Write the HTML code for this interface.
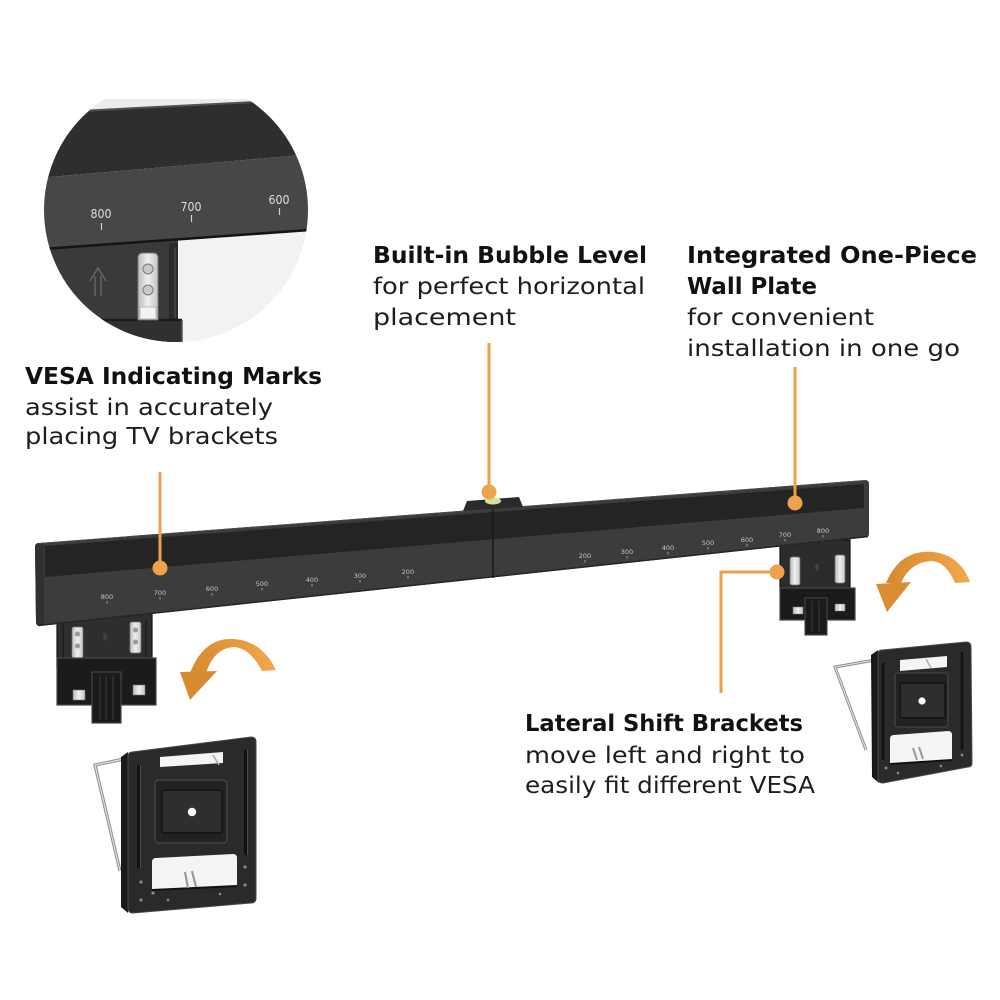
<!DOCTYPE html>
<html>
<head>
<meta charset="utf-8">
<style>
  html,body{margin:0;padding:0;background:#fff;}
  svg{display:block;}
  .h{font-family:"DejaVu Sans","Liberation Sans",sans-serif;font-weight:bold;font-size:23.5px;fill:#111;}
  .b{font-family:"DejaVu Sans","Liberation Sans",sans-serif;font-size:23.5px;fill:#1e1e1e;}
  .s{font-family:"DejaVu Sans","Liberation Sans",sans-serif;font-size:6.5px;fill:#c8c8c8;text-anchor:middle;}
  .c{font-family:"DejaVu Sans","Liberation Sans",sans-serif;font-size:12.5px;fill:#dedede;text-anchor:middle;}
</style>
</head>
<body>
<svg width="1000" height="1000" viewBox="0 0 1000 1000" xmlns="http://www.w3.org/2000/svg">
  <defs>
    <clipPath id="circ"><circle cx="176" cy="210" r="132"/></clipPath>
    <linearGradient id="arrL" x1="0" y1="0" x2="1" y2="0">
      <stop offset="0" stop-color="#d7892f"/>
      <stop offset="1" stop-color="#f3a84e"/>
    </linearGradient>
    <linearGradient id="silver" x1="0" y1="0" x2="1" y2="0">
      <stop offset="0" stop-color="#bdbdbd"/>
      <stop offset="0.5" stop-color="#efefef"/>
      <stop offset="1" stop-color="#c4c4c4"/>
    </linearGradient>
  </defs>

  <!-- ===== Circle inset ===== -->
  <g clip-path="url(#circ)">
    <rect x="40" y="99" width="275" height="16" fill="#ececec"/>
    <polygon points="40,112.5 312,98.6 312,154.2 40,177.9" fill="#2e2e2e"/>
    <line x1="40" y1="113" x2="312" y2="99.1" stroke="#525252" stroke-width="2"/>
    <polygon points="40,177.9 312,154.2 312,229.4 40,248.7" fill="#474747"/>
    <polygon points="177,240 312,230 312,350 177,350" fill="#f2f2f2"/>
    <polygon points="40,249.5 178,240 178,350 40,350" fill="#3a3a3a"/>
    <rect x="169" y="243" width="9" height="110" fill="#2b2b2b"/>
    <line x1="175" y1="248" x2="175" y2="318" stroke="#4e4e4e" stroke-width="1.2"/>
    <rect x="40" y="320" width="142" height="30" fill="#303030"/>
    <line x1="40" y1="320" x2="182" y2="320" stroke="#1a1a1a" stroke-width="2.5"/>
    <line x1="182" y1="320" x2="182" y2="350" stroke="#555" stroke-width="1.5"/>
    <line x1="40" y1="249.2" x2="312" y2="229.8" stroke="#141414" stroke-width="2.5"/>
    <!-- silver plate -->
    <path d="M138,320 L138,258 Q138,253 143,253 L153,253 Q158,253 158,258 L158,320 Z" fill="url(#silver)" stroke="#7a7a7a" stroke-width="1"/>
    <rect x="140" y="307" width="16" height="12" fill="#f2f2f2" stroke="#999" stroke-width="0.6"/>
    <circle cx="148" cy="269" r="5" fill="#c9c9c9" stroke="#777" stroke-width="1"/>
    <circle cx="148" cy="290" r="5" fill="#c9c9c9" stroke="#777" stroke-width="1"/>
    <!-- arrow -->
    <g stroke="#6c6c6c" stroke-width="1.3" fill="none">
      <polyline points="90,281 98,268 106,281"/>
      <line x1="95" y1="276" x2="95" y2="296"/>
      <line x1="101" y1="276" x2="101" y2="296"/>
    </g>
    <!-- labels -->
    <text class="c" x="101" y="218" textLength="21" lengthAdjust="spacingAndGlyphs">800</text>
    <line x1="101.5" y1="223" x2="101.5" y2="230" stroke="#cfcfcf" stroke-width="1.2"/>
    <text class="c" x="191" y="211" textLength="21" lengthAdjust="spacingAndGlyphs">700</text>
    <line x1="191.5" y1="215" x2="191.5" y2="222" stroke="#cfcfcf" stroke-width="1.2"/>
    <text class="c" x="279" y="204" textLength="21" lengthAdjust="spacingAndGlyphs">600</text>
    <line x1="279.5" y1="208" x2="279.5" y2="215" stroke="#cfcfcf" stroke-width="1.2"/>
  </g>

  <!-- ===== Text blocks ===== -->
  <text class="h" x="25" y="384" textLength="297" lengthAdjust="spacingAndGlyphs">VESA Indicating Marks</text>
  <text class="b" x="25" y="415" textLength="248" lengthAdjust="spacingAndGlyphs">assist in accurately</text>
  <text class="b" x="25" y="444" textLength="253" lengthAdjust="spacingAndGlyphs">placing TV brackets</text>

  <text class="h" x="373" y="263" textLength="274" lengthAdjust="spacingAndGlyphs">Built-in Bubble Level</text>
  <text class="b" x="373" y="294" textLength="272" lengthAdjust="spacingAndGlyphs">for perfect horizontal</text>
  <text class="b" x="373" y="325" textLength="143" lengthAdjust="spacingAndGlyphs">placement</text>

  <text class="h" x="687" y="263" textLength="290" lengthAdjust="spacingAndGlyphs">Integrated One-Piece</text>
  <text class="h" x="687" y="294" textLength="130" lengthAdjust="spacingAndGlyphs">Wall Plate</text>
  <text class="b" x="687" y="325" textLength="187" lengthAdjust="spacingAndGlyphs">for convenient</text>
  <text class="b" x="687" y="356" textLength="273" lengthAdjust="spacingAndGlyphs">installation in one go</text>

  <text class="h" x="525" y="731" textLength="278" lengthAdjust="spacingAndGlyphs">Lateral Shift Brackets</text>
  <text class="b" x="525" y="763" textLength="280" lengthAdjust="spacingAndGlyphs">move left and right to</text>
  <text class="b" x="525" y="793" textLength="290" lengthAdjust="spacingAndGlyphs">easily fit different VESA</text>

  <!-- ===== Hanging bracket left ===== -->
  <g>
    <rect x="57" y="612" width="95" height="56" fill="#2e2e2e" stroke="#151515" stroke-width="1.2"/>
    <line x1="63" y1="620" x2="63" y2="660" stroke="#1c1c1c" stroke-width="1.5"/>
    <line x1="146" y1="620" x2="146" y2="660" stroke="#1c1c1c" stroke-width="1.5"/>
    <rect x="72" y="627" width="11" height="31" rx="2" fill="url(#silver)" stroke="#777" stroke-width="0.7"/>
    <circle cx="77.5" cy="634" r="2.5" fill="#999"/><circle cx="77.5" cy="646" r="2.5" fill="#999"/>
    <rect x="130" y="622" width="11" height="31" rx="2" fill="url(#silver)" stroke="#777" stroke-width="0.7"/>
    <circle cx="135.5" cy="630" r="2.5" fill="#999"/><circle cx="135.5" cy="642" r="2.5" fill="#999"/>
    <ellipse cx="105" cy="637" rx="2" ry="4" fill="#3e3e3e"/>
    <rect x="57" y="658" width="99" height="47" fill="#1b1b1b" stroke="#474747" stroke-width="1.2"/>
    <rect x="92" y="672" width="29" height="51" fill="#1a1a1a" stroke="#474747" stroke-width="1.2"/>
    <line x1="100" y1="676" x2="100" y2="720" stroke="#3a3a3a" stroke-width="1.2"/>
    <line x1="106" y1="676" x2="106" y2="720" stroke="#3a3a3a" stroke-width="1.2"/>
    <line x1="113" y1="676" x2="113" y2="720" stroke="#3a3a3a" stroke-width="1.2"/>
    <rect x="73" y="690" width="12" height="10" fill="url(#silver)" stroke="#777" stroke-width="0.6"/>
    <rect x="133" y="685" width="12" height="10" fill="url(#silver)" stroke="#777" stroke-width="0.6"/>
  </g>

  <!-- ===== Hanging bracket right ===== -->
  <g>
    <rect x="780" y="540" width="70" height="50" fill="#2c2c2c" stroke="#151515" stroke-width="1.2"/>
    <rect x="790" y="557" width="10" height="28" rx="2" fill="url(#silver)" stroke="#777" stroke-width="0.7"/>
    <rect x="835" y="555" width="10" height="28" rx="2" fill="url(#silver)" stroke="#777" stroke-width="0.7"/>
    <ellipse cx="817" cy="567" rx="1.8" ry="3.5" fill="#444"/>
    <rect x="780" y="588" width="75" height="32" fill="#1b1b1b" stroke="#474747" stroke-width="1.2"/>
    <rect x="805" y="598" width="22" height="37" fill="#1a1a1a" stroke="#474747" stroke-width="1.1"/>
    <line x1="812" y1="601" x2="812" y2="632" stroke="#3a3a3a" stroke-width="1"/>
    <line x1="819" y1="601" x2="819" y2="632" stroke="#3a3a3a" stroke-width="1"/>
    <rect x="793" y="607" width="10" height="7" fill="url(#silver)" stroke="#777" stroke-width="0.5"/>
    <rect x="835" y="604" width="10" height="7" fill="url(#silver)" stroke="#777" stroke-width="0.5"/>
  </g>

  <!-- ===== Main bar ===== -->
  <path d="M35,547 Q35,543 39,543 L865,480 Q869,480 869,484 L869,534 Q869,537 865,537.5 L40,626 Q36,626 36,622 Z" fill="#3c3c3c"/>
  <polygon points="45,546 864,484 864,508 45,577" fill="#242424"/>
  <path d="M35,547 Q35,543 39,543 L44,543 L44,625 L40,626 Q36,626 36,622 Z" fill="#303030"/>
  <line x1="38" y1="625.5" x2="868" y2="536.5" stroke="#262626" stroke-width="1.5"/>
  <line x1="39" y1="543.5" x2="866" y2="480.5" stroke="#4a4a4a" stroke-width="1"/>
  <line x1="493" y1="507" x2="493" y2="578" stroke="#181818" stroke-width="1.5"/>
  <!-- bubble level bump -->
  <polygon points="463,511 467,501 519,497 523,507" fill="#2b2b2b"/>
  <ellipse cx="493" cy="501" rx="8" ry="3.5" fill="#cfe69a"/>

  <!-- scale marks left -->
  <g>
    <text class="s" x="107" y="599">800</text><line x1="107" y1="601" x2="107" y2="603.5" stroke="#bbb" stroke-width="0.8"/>
    <text class="s" x="160" y="595">700</text><line x1="160" y1="597" x2="160" y2="599.5" stroke="#bbb" stroke-width="0.8"/>
    <text class="s" x="212" y="591">600</text><line x1="212" y1="593" x2="212" y2="595.5" stroke="#bbb" stroke-width="0.8"/>
    <text class="s" x="262" y="586">500</text><line x1="262" y1="588" x2="262" y2="590.5" stroke="#bbb" stroke-width="0.8"/>
    <text class="s" x="312" y="582">400</text><line x1="312" y1="584" x2="312" y2="586.5" stroke="#bbb" stroke-width="0.8"/>
    <text class="s" x="360" y="578">300</text><line x1="360" y1="580" x2="360" y2="582.5" stroke="#bbb" stroke-width="0.8"/>
    <text class="s" x="408" y="574">200</text><line x1="408" y1="576" x2="408" y2="578.5" stroke="#bbb" stroke-width="0.8"/>
  </g>
  <!-- scale marks right -->
  <g>
    <text class="s" x="585" y="558">200</text><line x1="585" y1="560" x2="585" y2="562.5" stroke="#bbb" stroke-width="0.8"/>
    <text class="s" x="627" y="554">300</text><line x1="627" y1="556" x2="627" y2="558.5" stroke="#bbb" stroke-width="0.8"/>
    <text class="s" x="668" y="550">400</text><line x1="668" y1="552" x2="668" y2="554.5" stroke="#bbb" stroke-width="0.8"/>
    <text class="s" x="708" y="545">500</text><line x1="708" y1="547" x2="708" y2="549.5" stroke="#bbb" stroke-width="0.8"/>
    <text class="s" x="747" y="542">600</text><line x1="747" y1="544" x2="747" y2="546.5" stroke="#bbb" stroke-width="0.8"/>
    <text class="s" x="785" y="537">700</text><line x1="785" y1="539" x2="785" y2="541.5" stroke="#bbb" stroke-width="0.8"/>
    <text class="s" x="823" y="533">800</text><line x1="823" y1="535" x2="823" y2="537.5" stroke="#bbb" stroke-width="0.8"/>
  </g>

  <!-- ===== Callout lines ===== -->
  <g stroke="#eca04b" stroke-width="3" fill="none">
    <line x1="160" y1="472" x2="160" y2="568"/>
    <line x1="489" y1="343" x2="489" y2="492"/>
    <line x1="795" y1="367" x2="795" y2="503"/>
    <polyline points="777,572 721,572 721,693"/>
  </g>
  <g fill="#eea24c">
    <circle cx="160" cy="568" r="7.5"/>
    <circle cx="489" cy="492" r="7.5"/>
    <circle cx="795" cy="503" r="7.5"/>
    <circle cx="777" cy="572" r="7.5"/>
  </g>

  <!-- ===== Curved arrows ===== -->
  <path d="M190,673 Q204,637 234,639 Q262,641 276,670 L262,671 Q250,648 234,647 Q214,648 206,673 Z" fill="url(#arrL)"/>
  <polygon points="180,672 217,671 190,700" fill="#d98b31"/>
  <path d="M886,583 Q900,549 933,552 Q960,555 970,582 L955,583 Q946,562 932,561 Q910,562 901,583 Z" fill="url(#arrL)"/>
  <polygon points="876,584 911,582 887,612" fill="#da8c32"/>

  <!-- ===== Detached plate left ===== -->
  <g>
    <polyline points="124,759 95,765 120,871" fill="none" stroke="#8d8d8d" stroke-width="3.2"/>
    <polyline points="124,759 95,765 120,871" fill="none" stroke="#e2e2e2" stroke-width="1.2"/>
    <polygon points="121,757 128,752 128,913 121,907" fill="#1a1a1a"/>
    <path d="M132,752 L251,737 Q256,737 256,742 L256,898 Q256,903 251,903 L133,913 Q128,913 128,908 L128,757 Q128,752 132,752 Z" fill="#2a2a2a" stroke="#4a4a4a" stroke-width="1"/>
    <polygon points="160,757 223,752 223,763 160,767" fill="#f4f4f4"/>
    <line x1="213" y1="755" x2="219" y2="765" stroke="#aaa" stroke-width="1.5"/>
    <line x1="138.5" y1="765" x2="138.5" y2="868" stroke="#111" stroke-width="3"/>
    <line x1="140.5" y1="765" x2="140.5" y2="868" stroke="#555" stroke-width="0.8"/>
    <line x1="245.5" y1="750" x2="245.5" y2="855" stroke="#111" stroke-width="3"/>
    <line x1="247.5" y1="750" x2="247.5" y2="855" stroke="#555" stroke-width="0.8"/>
    <rect x="155" y="780" width="72" height="63" rx="4" fill="#222" stroke="#4a4a4a" stroke-width="1.2"/>
    <rect x="162" y="790" width="60" height="43" rx="2" fill="#2e2e2e" stroke="#111" stroke-width="1.5"/>
    <circle cx="192" cy="812" r="4.2" fill="#fff"/>
    <path d="M152,862 Q152,858 156,858 L233,854 Q237,854 237,858 L237,886 L152,890 Z" fill="#f4f4f4"/>
    <line x1="152" y1="890" x2="237" y2="886" stroke="#111" stroke-width="2"/>
    <line x1="185" y1="872" x2="188" y2="888" stroke="#999" stroke-width="2.2"/>
    <line x1="192" y1="871" x2="196" y2="887" stroke="#999" stroke-width="2.2"/>
    <g fill="#8a8a8a">
      <circle cx="141" cy="882" r="1.6"/><circle cx="141" cy="900" r="1.6"/>
      <circle cx="153" cy="893" r="1.6"/><circle cx="168" cy="900" r="1.3"/>
      <circle cx="220" cy="894" r="1.3"/><circle cx="245" cy="867" r="1.6"/>
      <circle cx="245" cy="885" r="1.6"/>
    </g>
  </g>

  <!-- ===== Detached plate right ===== -->
  <g>
    <polyline points="875,660 835,667 866,750" fill="none" stroke="#8d8d8d" stroke-width="3"/>
    <polyline points="875,660 835,667 866,750" fill="none" stroke="#e2e2e2" stroke-width="1.1"/>
    <polygon points="871,655 878,650 879,783 872,777" fill="#1a1a1a"/>
    <path d="M882,650 L966,642 Q971,642 971,647 L972,763 Q972,767 968,767 L883,783 Q878,783 878,779 L878,654 Q878,650 882,650 Z" fill="#2a2a2a" stroke="#4a4a4a" stroke-width="1"/>
    <polygon points="900,660 947,656 947,667 900,671" fill="#f4f4f4"/>
    <line x1="926" y1="659" x2="931" y2="668" stroke="#aaa" stroke-width="1.4"/>
    <line x1="883" y1="663" x2="883" y2="760" stroke="#111" stroke-width="2.6"/>
    <line x1="962" y1="652" x2="962" y2="750" stroke="#111" stroke-width="2.6"/>
    <rect x="895" y="673" width="53" height="54" rx="3" fill="#222" stroke="#4a4a4a" stroke-width="1.1"/>
    <rect x="900" y="683" width="45" height="35" rx="2" fill="#2e2e2e" stroke="#111" stroke-width="1.4"/>
    <circle cx="922" cy="701" r="3.6" fill="#fff"/>
    <path d="M890,739 Q890,735 894,735 L948,731 Q952,731 952,735 L952,760 L890,764 Z" fill="#f4f4f4"/>
    <line x1="890" y1="764" x2="952" y2="760" stroke="#111" stroke-width="2"/>
    <line x1="913" y1="748" x2="917" y2="760" stroke="#999" stroke-width="2"/>
    <line x1="919" y1="747" x2="923" y2="759" stroke="#999" stroke-width="2"/>
    <g fill="#8a8a8a">
      <circle cx="886" cy="768" r="1.4"/><circle cx="898" cy="773" r="1.3"/>
      <circle cx="941" cy="766" r="1.3"/><circle cx="962" cy="755" r="1.4"/>
    </g>
  </g>
</svg>
</body>
</html>
